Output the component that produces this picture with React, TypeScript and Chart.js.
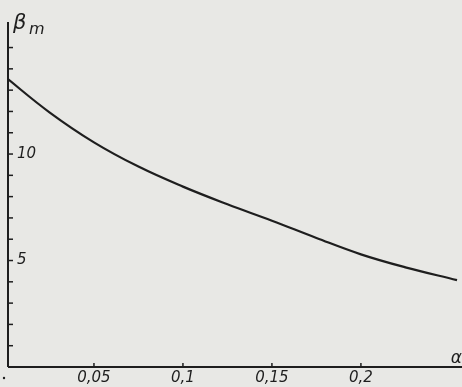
import React, { useEffect, useRef } from "react";
import { Chart, registerables } from "chart.js";

Chart.register(...registerables);

// data
const alphaValues = [0, 0.025, 0.05, 0.075, 0.1, 0.125, 0.15, 0.175, 0.2, 0.225, 0.254];
const betaValues = [13.63, 11.96, 10.55, 9.41, 8.47, 7.64, 6.87, 6.06, 5.29, 4.68, 4.08];
const yTickValues = [1, 2, 3, 4, 5, 6, 7, 8, 9, 10, 11, 12, 13, 14, 15];
const yLabelValues = [5, 10];
const xTickValues = [0.05, 0.1, 0.15, 0.2];
const xTickLabels = ["0,05", "0,1", "0,15", "0,2"];
const yAxisTitle = "β";
const yAxisSub = "m";
const xAxisTitle = "α";

const axesPlugin = {
  id: "handAxes",
  afterDraw(chart: any) {
    const { ctx, chartArea, scales } = chart;
    const xs = scales.x;
    const ys = scales.y;
    ctx.save();
    ctx.strokeStyle = "#1e1e1e";
    ctx.fillStyle = "#1e1e1e";
    ctx.lineWidth = 2;
    ctx.beginPath();
    ctx.moveTo(chartArea.left, chartArea.top);
    ctx.lineTo(chartArea.left, chartArea.bottom);
    ctx.stroke();
    ctx.beginPath();
    ctx.moveTo(chartArea.left, chartArea.bottom);
    ctx.lineTo(chartArea.right, chartArea.bottom);
    ctx.stroke();
    ctx.lineWidth = 1.5;
    yTickValues.forEach((v) => {
      const y = ys.getPixelForValue(v);
      ctx.beginPath();
      ctx.moveTo(chartArea.left - 1, y);
      ctx.lineTo(chartArea.left + 5, y);
      ctx.stroke();
    });
    xTickValues.forEach((v) => {
      const x = xs.getPixelForValue(v);
      ctx.beginPath();
      ctx.moveTo(x, chartArea.bottom - 4);
      ctx.lineTo(x, chartArea.bottom);
      ctx.stroke();
    });
    ctx.font = "italic 15px 'DejaVu Sans'";
    ctx.textBaseline = "middle";
    ctx.textAlign = "left";
    yLabelValues.forEach((v) => {
      const y = ys.getPixelForValue(v);
      ctx.fillText(String(v), chartArea.left + 9, y);
    });
    ctx.textAlign = "center";
    ctx.textBaseline = "top";
    xTickValues.forEach((v, i) => {
      const x = xs.getPixelForValue(v);
      ctx.fillText(xTickLabels[i], x, chartArea.bottom + 4);
    });
    ctx.beginPath();
    ctx.arc(chartArea.left - 4, chartArea.bottom + 11, 1.2, 0, Math.PI * 2);
    ctx.fill();
    ctx.textAlign = "left";
    ctx.textBaseline = "alphabetic";
    ctx.font = "italic 21px 'DejaVu Sans'";
    ctx.fillText(yAxisTitle, chartArea.left + 5, chartArea.top + 7);
    ctx.font = "italic 16px 'DejaVu Sans'";
    ctx.fillText(yAxisSub, chartArea.left + 21, chartArea.top + 12);
    ctx.font = "italic 17px 'DejaVu Sans'";
    ctx.textAlign = "right";
    ctx.fillText(xAxisTitle, chartArea.right, chartArea.bottom - 4);
    ctx.restore();
  },
};

export default function App() {
  const canvasRef = useRef<HTMLCanvasElement | null>(null);

  useEffect(() => {
    if (!canvasRef.current) return;
    const chart = new Chart(canvasRef.current, {
      type: "line",
      data: {
        datasets: [
          {
            data: alphaValues.map((a, i) => ({ x: a, y: betaValues[i] })),
            borderColor: "#1e1e1e",
            borderWidth: 2.2,
            pointRadius: 0,
            tension: 0.4,
            fill: false,
          },
        ],
      },
      options: {
        responsive: false,
        animation: false,
        layout: { padding: { left: 8, top: 22, right: 0, bottom: 20 } },
        plugins: { legend: { display: false }, tooltip: { enabled: false } },
        scales: {
          x: { type: "linear", display: false, min: 0.0017, max: 0.2568 },
          y: { type: "linear", display: false, min: 0, max: 16.2 },
        },
      },
      plugins: [axesPlugin],
    });
    return () => chart.destroy();
  }, []);

  return (
    <div
      style={{
        position: "fixed",
        left: 0,
        top: 0,
        width: 462,
        height: 387,
        background: "#e8e8e5",
      }}
    >
      <canvas ref={canvasRef} width={462} height={387} style={{ display: "block" }} />
    </div>
  );
}
